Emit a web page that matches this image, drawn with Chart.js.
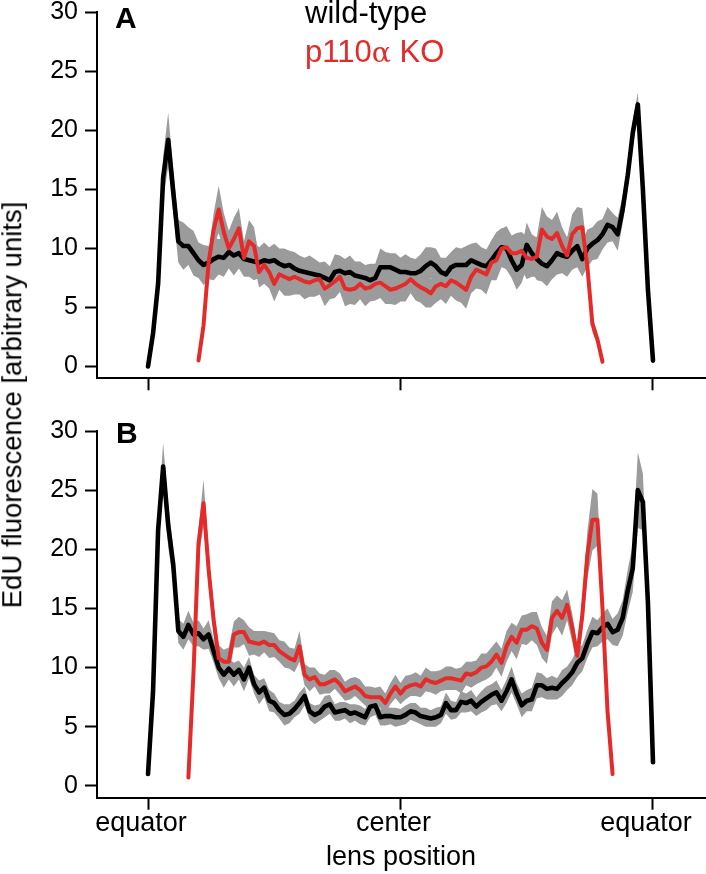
<!DOCTYPE html>
<html>
<head>
<meta charset="utf-8">
<script src="https://cdn.jsdelivr.net/npm/chart.js@4.4.1/dist/chart.umd.min.js"></script>
<style>
  html, body { margin: 0; padding: 0; background: #fff; }
  #wrap { position: relative; width: 706px; height: 874px; overflow: hidden; font-family: "Liberation Sans", Arial, sans-serif; }
  .box { position: absolute; left: 0; width: 706px; }
  #boxA { top: -20px; height: 440px; }
  #boxB { top: 400px; height: 474px; }
  .txt { position: absolute; white-space: nowrap; line-height: 1; }
  .alpha { font-family: "DejaVu Serif", serif; font-size: 0.92em; }
</style>
</head>
<body>
<div id="wrap">
  <div class="box" id="boxA"><canvas id="chartA"></canvas></div>
  <div class="box" id="boxB"><canvas id="chartB"></canvas></div>
  <div class="txt" style="left:115px; top:3px; font-size:30px; font-weight:bold;">A</div>
  <div class="txt" style="left:116px; top:418px; font-size:30px; font-weight:bold;">B</div>
  <div class="txt" style="left:305px; top:-3px; font-size:31px; color:#000;">wild-type</div>
  <div class="txt" style="left:305px; top:36px; font-size:31px; color:#e52a2a;">p110<span class="alpha">α</span> KO</div>
  <div class="txt" style="left:11.5px; top:405px; font-size:27.5px; transform: translate(-50%, -50%) rotate(-90deg);">EdU fluorescence [arbitrary units]</div>
</div>
<script>
// axis ticks
const xTickValues = [0, 50, 100];
const xTickLabels = ["equator", "center", "equator"];
const yTickValues = [0, 5, 10, 15, 20, 25, 30];

// panel A, wild-type (positions 0..100)
const wtA = [0, 2.8, 7.0, 16.0, 19.2, 14.8, 10.6, 10.2, 10.2, 9.6,
  9.0, 8.6, 8.8, 9.1, 9.3, 9.2, 9.7, 9.4, 9.6, 9.1,
  9.0, 8.9, 8.8, 9.0, 8.9, 9.0, 8.7, 8.5, 8.6, 8.3,
  8.1, 8.0, 7.9, 7.8, 7.7, 7.5, 7.3, 8.0, 8.1, 7.9,
  8.0, 7.7, 7.6, 7.5, 7.3, 7.5, 8.4, 8.4, 8.4, 8.2,
  8.0, 8.0, 7.9, 7.9, 8.1, 8.5, 8.8, 8.5, 8.0, 7.8,
  8.4, 8.6, 8.6, 8.6, 9.0, 8.8, 8.6, 8.5, 9.0, 9.6,
  10.1, 10.0, 9.0, 8.2, 8.6, 10.3, 9.6, 9.1, 8.7, 8.5,
  9.0, 9.6, 9.4, 9.3, 9.8, 10.2, 9.1, 10.0, 10.4, 10.7,
  11.2, 12.0, 11.8, 11.2, 13.3, 16.2, 19.8, 22.2, 15.0, 6.5,
  0.5];
const semWtA = [0.2, 0.5, 1.0, 1.8, 2.3, 1.8, 1.8, 2.0, 1.6, 1.9,
  1.5, 1.7, 1.4, 1.8, 1.5, 1.6, 1.4, 1.7, 1.3, 1.5,
  1.4, 1.6, 1.3, 1.5, 1.2, 1.4, 1.3, 1.5, 1.2, 1.4,
  1.3, 1.2, 1.5, 1.3, 1.1, 1.4, 1.2, 1.5, 1.3, 1.2,
  1.4, 1.2, 1.3, 1.1, 1.4, 1.2, 1.6, 1.3, 1.2, 1.4,
  1.2, 1.5, 1.3, 1.2, 1.4, 1.6, 1.3, 1.5, 1.2, 1.4,
  1.3, 1.5, 1.4, 1.6, 1.4, 1.7, 1.5, 1.4, 1.7, 1.8,
  1.6, 1.8, 1.5, 1.7, 1.5, 1.9, 1.6, 1.8, 1.5, 1.7,
  1.6, 1.8, 1.5, 1.7, 1.6, 1.8, 1.5, 1.6, 1.4, 1.6,
  1.3, 1.5, 1.2, 1.4, 1.2, 1.1, 1.0, 1.0, 0.8, 0.5,
  0.3];

// panel A, p110a KO (positions 10..90)
const koAStart = 10;
const koA = [0.5, 3.5, 8.8, 11.6, 13.3, 11.4, 10.0, 10.8, 11.7, 9.2,
  10.6, 10.2, 8.0, 8.6, 8.0, 7.0, 7.8, 7.6, 7.4, 7.6,
  7.4, 7.2, 7.1, 7.3, 7.4, 6.6, 6.9, 7.2, 7.6, 6.6,
  6.5, 6.6, 7.0, 6.6, 6.7, 7.0, 7.1, 6.8, 6.5, 6.6,
  6.8, 7.0, 7.4, 7.0, 6.7, 6.5, 6.2, 6.8, 7.0, 6.8,
  7.3, 7.1, 6.8, 6.5, 7.6, 8.2, 8.0, 7.8, 8.8, 9.0,
  10.0, 10.1, 9.6, 9.6, 9.8, 9.2, 9.1, 9.3, 11.6, 11.0,
  10.8, 11.3, 10.2, 9.4, 11.2, 11.7, 11.8, 8.5, 3.6, 2.3,
  0.4];
const semKoA = [0.2, 0.4, 0.8, 1.4, 2.0, 1.6, 1.5, 1.8, 1.7, 1.4,
  1.8, 1.6, 1.3, 1.6, 1.4, 1.5, 1.3, 1.6, 1.4, 1.5,
  1.3, 1.5, 1.2, 1.4, 1.3, 1.5, 1.2, 1.4, 1.3, 1.5,
  1.2, 1.4, 1.3, 1.5, 1.2, 1.4, 1.3, 1.5, 1.2, 1.4,
  1.3, 1.5, 1.2, 1.4, 1.3, 1.5, 1.2, 1.4, 1.3, 1.5,
  1.3, 1.5, 1.4, 1.6, 1.4, 1.6, 1.5, 1.7, 1.5, 1.7,
  1.6, 1.8, 1.5, 1.7, 1.6, 1.8, 1.5, 1.7, 1.9, 1.7,
  1.6, 1.8, 1.6, 1.5, 1.7, 1.8, 1.6, 1.2, 0.7, 0.5,
  0.3];

// panel B, wild-type (positions 0..100)
const wtB = [1.0, 8.0, 21.6, 27.0, 22.0, 18.7, 13.1, 12.6, 13.6, 12.8,
  12.9, 12.4, 12.8, 11.4, 10.0, 9.4, 9.9, 9.4, 9.8, 9.0,
  10.0, 8.6, 7.9, 8.3, 7.2, 7.0, 6.4, 6.0, 6.1, 6.5,
  7.0, 7.6, 6.3, 6.0, 6.2, 6.7, 6.9, 6.2, 6.3, 6.4,
  6.1, 6.2, 6.0, 5.8, 6.7, 6.8, 5.8, 5.9, 5.9, 5.8,
  5.8, 6.0, 6.3, 6.2, 5.9, 5.8, 5.7, 5.8, 6.0, 7.0,
  6.4, 6.4, 7.1, 7.0, 7.2, 6.7, 7.1, 7.4, 7.7, 7.9,
  7.2, 8.0, 9.0, 7.8, 6.8, 7.2, 7.3, 8.5, 8.5, 8.2,
  8.3, 8.2, 8.7, 9.1, 9.6, 10.4, 10.8, 12.0, 13.0, 12.9,
  13.4, 13.7, 13.0, 13.2, 14.2, 16.5, 18.4, 25.0, 24.0, 15.5,
  2.0];
const semWtB = [0.2, 0.5, 1.2, 2.0, 1.8, 1.4, 1.0, 1.1, 1.2, 1.0,
  1.1, 0.9, 1.2, 1.0, 0.9, 1.1, 0.9, 1.0, 0.8, 1.0,
  0.9, 0.8, 1.0, 0.8, 0.9, 0.8, 0.7, 0.9, 0.8, 0.7,
  0.9, 0.8, 0.7, 0.8, 0.7, 0.9, 0.8, 0.7, 0.8, 0.7,
  0.8, 0.7, 0.8, 0.7, 0.9, 0.8, 0.7, 0.8, 0.7, 0.8,
  0.7, 0.8, 0.7, 0.8, 0.7, 0.8, 0.7, 0.8, 0.7, 0.9,
  0.8, 0.7, 0.9, 0.8, 0.9, 0.8, 0.9, 1.0, 0.9, 1.0,
  0.9, 1.0, 1.1, 0.9, 1.0, 0.9, 1.0, 1.1, 1.0, 0.9,
  1.0, 0.9, 1.1, 1.0, 1.1, 1.2, 1.1, 1.2, 1.3, 1.1,
  1.2, 1.3, 1.1, 1.4, 1.5, 1.8, 2.0, 3.2, 2.4, 1.0,
  0.3];

// panel B, p110a KO (positions 8..92)
const koBStart = 8;
const koB = [0.7, 9.5,
  20.5, 23.9, 18.3, 14.0, 10.8, 10.5, 10.5, 12.8, 13.0, 13.0,
  12.2, 12.1, 12.0, 12.2, 11.9, 11.9, 11.4, 11.1, 10.8, 10.6,
  11.8, 9.4, 9.0, 9.2, 8.6, 8.6, 8.8, 9.0, 8.6, 8.0,
  8.2, 8.4, 8.1, 7.6, 7.5, 7.5, 7.5, 7.0, 7.8, 8.4,
  7.8, 8.3, 8.5, 8.6, 8.4, 9.0, 8.8, 8.7, 8.9, 9.1,
  9.1, 9.0, 8.9, 9.5, 9.4, 9.6, 10.0, 10.1, 10.5, 11.1,
  10.4, 11.8, 12.6, 12.1, 13.2, 13.2, 13.5, 13.3, 12.1, 11.5,
  14.2, 14.8, 14.2, 15.3, 13.4, 11.0, 14.4, 19.5, 22.5, 22.5,
  15.0, 6.3, 1.0];
const semKoB = [0.2, 0.5,
  1.2, 2.0, 1.5, 1.2, 1.1, 1.0, 1.2, 1.1, 1.3, 1.0,
  1.2, 1.0, 1.1, 0.9, 1.1, 1.0, 0.9, 1.1, 0.9, 1.0,
  1.3, 0.9, 1.0, 0.8, 0.9, 0.8, 1.0, 0.8, 0.9, 0.8,
  0.9, 0.8, 0.9, 0.8, 0.9, 0.8, 0.9, 0.8, 0.9, 1.0,
  0.9, 1.0, 0.9, 1.0, 0.9, 1.0, 0.9, 1.0, 0.9, 1.0,
  1.0, 0.9, 1.1, 1.0, 1.1, 1.0, 1.2, 1.1, 1.2, 1.1,
  1.2, 1.3, 1.2, 1.4, 1.2, 1.3, 1.2, 1.4, 1.3, 1.2,
  1.4, 1.3, 1.5, 1.3, 1.2, 1.0, 1.4, 2.0, 2.6, 2.2,
  1.2, 0.5, 0.2];

const BLACK = "#000000";
const RED = "#e52a2a";
const GREY = "#9b9b9b";

Chart.defaults.font.family = '"Liberation Sans", Arial, sans-serif';
Chart.defaults.color = "#000";

function pts(vals, start) {
  return vals.map((v, i) => ({ x: start + i, y: v }));
}
function bandPts(vals, sem, start, sign) {
  return vals.map((v, i) => ({ x: start + i, y: v + sign * sem[i] }));
}

function makePanel(id, wt, semWt, ko, semKo, koStart, cfg) {
  const ctx = document.getElementById(id).getContext("2d");
  const line = (data, color, width) => ({
    data, borderColor: color, borderWidth: width, pointRadius: 0,
    borderJoinStyle: "round", borderCapStyle: "round", fill: false, tension: 0,
  });
  const band = (data, fill) => ({
    data, borderWidth: 0, borderColor: GREY, backgroundColor: GREY,
    pointRadius: 0, fill: fill, tension: 0,
  });
  return new Chart(ctx, {
    type: "line",
    data: {
      datasets: [
        line(pts(ko, koStart), RED, 4),
        line(pts(wt, 0), BLACK, 4.6),
        band(bandPts(wt, semWt, 0, 1), "+1"),
        band(bandPts(wt, semWt, 0, -1), false),
        band(bandPts(ko, semKo, koStart, 1), "+1"),
        band(bandPts(ko, semKo, koStart, -1), false),
      ],
    },
    options: {
      responsive: true,
      maintainAspectRatio: false,
      animation: false,
      layout: { padding: { top: cfg.padTop, left: 0, right: 1, bottom: 0 } },
      plugins: { legend: { display: false }, tooltip: { enabled: false } },
      scales: {
        x: {
          type: "linear",
          min: -10.1,
          max: 110.3,
          afterBuildTicks: (s) => { s.ticks = xTickValues.map((v) => ({ value: v })); },
          afterFit: (s) => { s.height = cfg.xHeight; },
          grid: { drawOnChartArea: false, drawTicks: true, tickLength: 12, tickWidth: 2, tickColor: BLACK },
          border: { display: true, color: BLACK, width: 2 },
          ticks: {
            display: cfg.xLabels,
            padding: -2,
            labelOffset: -7,
            maxRotation: 0,
            autoSkip: false,
            font: { size: 27 },
            color: BLACK,
            callback: (v) => xTickLabels[xTickValues.indexOf(v)],
          },
          title: {
            display: cfg.xLabels,
            text: "lens position",
            font: { size: 27 },
            color: BLACK,
            padding: { top: 0, bottom: 0 },
          },
        },
        y: {
          min: -1,
          max: 30,
          afterBuildTicks: (s) => { s.ticks = yTickValues.map((v) => ({ value: v })); },
          afterFit: (s) => { s.width = 97; },
          grid: { drawOnChartArea: false, drawTicks: true, tickLength: 12, tickWidth: 2, tickColor: BLACK },
          border: { display: true, color: BLACK, width: 2 },
          ticks: { padding: 7, font: { size: 25 }, color: BLACK },
        },
      },
    },
  });
}

makePanel("chartA", wtA, semWtA, koA, semKoA, koAStart, { padTop: 32.3, xHeight: 41.7, xLabels: false });
makePanel("chartB", wtB, semWtB, koB, semKoB, koBStart, { padTop: 31, xHeight: 76.3, xLabels: true });
</script>
</body>
</html>
